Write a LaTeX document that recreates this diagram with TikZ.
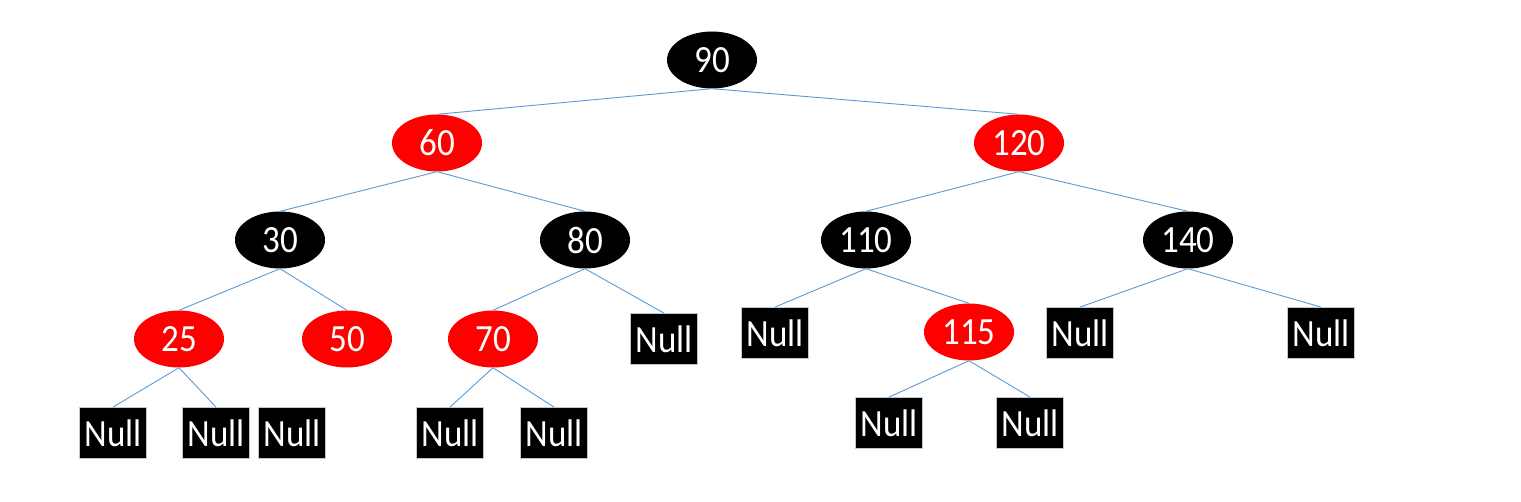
\documentclass[tikz,border=0pt]{standalone}
\usepackage{graphicx}
\usepackage{fontspec}
\setmainfont{Carlito}
\usetikzlibrary{shapes.geometric}
\definecolor{edgeblue}{RGB}{91,155,213}
\definecolor{nodered}{RGB}{255,0,0}
\definecolor{boxgray}{RGB}{190,200,210}
\newcommand{\lbl}[1]{\scalebox{1}[1.1]{#1}}
\begin{document}
\begin{tikzpicture}[x=1pt,y=-1pt,
  rb/.style={ellipse,inner sep=0pt,minimum width=90pt,minimum height=57pt,text=white,font=\fontsize{35}{42}\selectfont},
  blk/.style={rb,fill=black},
  red/.style={rb,fill=nodered},
  nullbox/.style={rectangle,fill=black,draw=boxgray,line width=0.8pt,inner sep=0pt,minimum width=67pt,minimum height=51pt,text=white,font=\fontsize{35}{42}\selectfont},
  edge/.style={draw=edgeblue,line width=0.9pt}]
\useasboundingbox (0,0) rectangle (1521,502);
\fill[white] (0,0) rectangle (1521,502);
% level 0
\node[blk] (n90) at (712,60) {\lbl{90}};
% level 1
\node[red] (n60) at (437,143) {\lbl{60}};
\node[red] (n120) at (1019,143) {\lbl{120}};
% level 2
\node[blk] (n30) at (280,240) {\lbl{30}};
\node[blk] (n80) at (585,240) {\lbl{80}};
\node[blk] (n110) at (866,240) {\lbl{110}};
\node[blk] (n140) at (1188,240) {\lbl{140}};
% level 3
\node[red] (n25) at (179,339) {\lbl{25}};
\node[red] (n50) at (347,339) {\lbl{50}};
\node[red] (n70) at (493,339) {\lbl{70}};
\node[nullbox] (z80r) at (664,339) {\lbl{Null}};
\node[nullbox] (z110l) at (775,333) {\lbl{Null}};
\node[red] (n115) at (969,332) {\lbl{115}};
\node[nullbox] (z140l) at (1080,333) {\lbl{Null}};
\node[nullbox] (z140r) at (1321,333) {\lbl{Null}};
% level 4
\node[nullbox] (z25l) at (113,433) {\lbl{Null}};
\node[nullbox] (z25r) at (216,433) {\lbl{Null}};
\node[nullbox] (z50) at (292,433) {\lbl{Null}};
\node[nullbox] (z70l) at (450,433) {\lbl{Null}};
\node[nullbox] (z70r) at (554,433) {\lbl{Null}};
\node[nullbox] (z115l) at (889,423) {\lbl{Null}};
\node[nullbox] (z115r) at (1030,423) {\lbl{Null}};
% edges
\path[edge] (n90.south) -- (n60.north);
\path[edge] (n90.south) -- (n120.north);
\path[edge] (n60.south) -- (n30.north);
\path[edge] (n60.south) -- (n80.north);
\path[edge] (n120.south) -- (n110.north);
\path[edge] (n120.south) -- (n140.north);
\path[edge] (n30.south) -- (n25.north);
\path[edge] (n30.south) -- (n50.north);
\path[edge] (n80.south) -- (n70.north);
\path[edge] (n80.south) -- (z80r.north);
\path[edge] (n110.south) -- (z110l.north);
\path[edge] (n110.south) -- (n115.north);
\path[edge] (n140.south) -- (z140l.north);
\path[edge] (n140.south) -- (z140r.north);
\path[edge] (n25.south) -- (z25l.north);
\path[edge] (n25.south) -- (z25r.north);
\path[edge] (n70.south) -- (z70l.north);
\path[edge] (n70.south) -- (z70r.north);
\path[edge] (n115.south) -- (z115l.north);
\path[edge] (n115.south) -- (z115r.north);
\end{tikzpicture}
\end{document}
